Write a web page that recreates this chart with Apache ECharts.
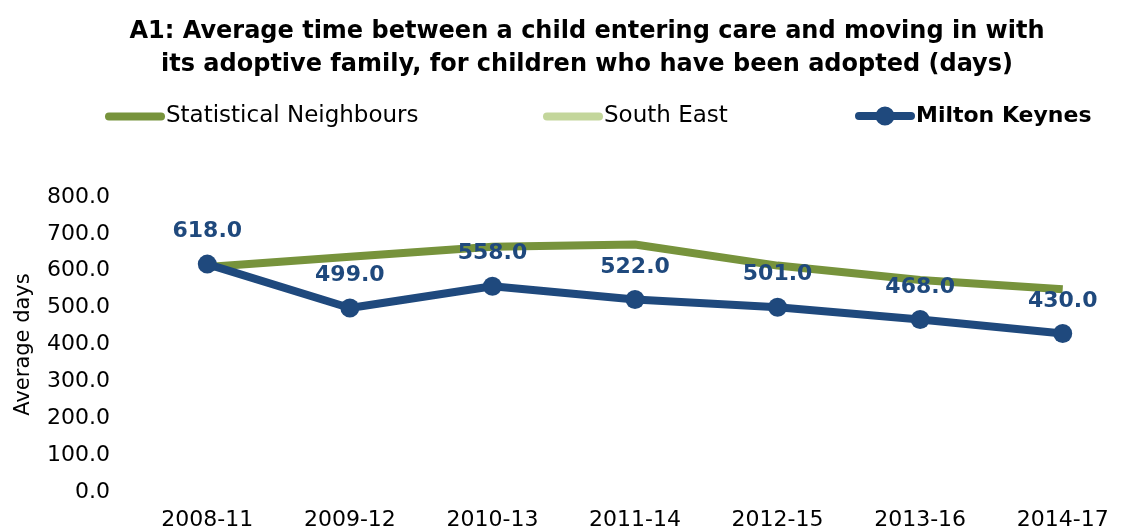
<!DOCTYPE html>
<html>
<head>
<meta charset="utf-8">
<script src="https://cdn.jsdelivr.net/npm/echarts@6/dist/echarts.min.js"></script>
<style>
  html, body { margin: 0; padding: 0; background: #fff; }
  #chart { width: 1134px; height: 531px; }
</style>
</head>
<body>
<div id="chart"></div>
<script>
// periods on the x axis
var periods = ['2008-11', '2009-12', '2010-13', '2011-14', '2012-15', '2013-16', '2014-17'];
// average days
var statNeighbours = [610, 638, 665, 671, 614, 575, 550];
var southEast = [];
var miltonKeynes = [618, 499, 558, 522, 501, 468, 430];
var yTicks = [0, 100, 200, 300, 400, 500, 600, 700, 800];

var chart = echarts.init(document.getElementById('chart'));

var font = '"DejaVu Sans", Arial, sans-serif';

// thick rounded bar, and the same bar with a dot for the marker series
var barIcon = 'path://M4,0 L56,0 A4,4 0 0 1 56,8 L4,8 A4,4 0 0 1 4,0 Z';
var dotIcon = 'path://M4,5.5 L56,5.5 A4,4 0 0 1 56,13.5 L4,13.5 A4,4 0 0 1 4,5.5 Z ' +
  'M20.5,9.5 A9.5,9.5 0 1 1 39.5,9.5 A9.5,9.5 0 1 1 20.5,9.5 Z';

var legendBase = function (name, left, icon, h, bold) {
  return {
    data: [{ name: name, icon: icon }],
    left: left,
    top: 105,
    itemWidth: 60,
    itemHeight: h,
    itemGap: 0,
    padding: 0,
    symbolKeepAspect: false,
    textStyle: {
      fontFamily: font,
      fontSize: bold ? 22 : 23,
      color: '#000',
      fontWeight: bold ? 'bold' : 'normal',
      padding: [0, 0, 0, -4],
      verticalAlign: 'middle'
    }
  };
};

var option = {
  backgroundColor: '#fff',
  animation: false,
  title: {
    text: 'A1: Average time between a child entering care and moving in with\nits adoptive family, for children who have been adopted (days)',
    left: 582,
    textAlign: 'center',
    top: 10,
    textStyle: {
      fontFamily: font,
      fontSize: 24,
      fontWeight: 'bold',
      color: '#000',
      lineHeight: 33
    }
  },
  legend: [
    legendBase('Statistical Neighbours', 105, barIcon, 8, false),
    legendBase('South East', 543, barIcon, 8, false),
    legendBase('Milton Keynes', 855, dotIcon, 19, true)
  ],
  grid: {
    left: 136,
    top: 197,
    width: 1008,
    bottom: 39,
    containLabel: false
  },
  xAxis: {
    type: 'category',
    data: periods,
    boundaryGap: true,
    axisLine: { show: false },
    axisTick: { show: false },
    axisLabel: {
      fontFamily: font,
      fontSize: 22,
      color: '#000',
      margin: 17
    }
  },
  yAxis: {
    type: 'value',
    min: yTicks[0],
    max: yTicks[yTicks.length - 1],
    interval: 100,
    name: 'Average days',
    nameLocation: 'middle',
    nameGap: 102,
    nameTextStyle: {
      fontFamily: font,
      fontSize: 21,
      color: '#000'
    },
    axisLine: { show: false },
    axisTick: { show: false },
    splitLine: { show: false },
    axisLabel: {
      fontFamily: font,
      fontSize: 22,
      color: '#000',
      margin: 26,
      formatter: function (v) { return v.toFixed(1); }
    }
  },
  series: [
    {
      name: 'Statistical Neighbours',
      type: 'line',
      data: statNeighbours,
      symbol: 'none',
      color: '#77933C',
      lineStyle: { color: '#77933C', width: 8 },
      z: 2
    },
    {
      name: 'South East',
      type: 'line',
      data: southEast,
      symbol: 'none',
      color: '#C3D69B',
      lineStyle: { color: '#C3D69B', width: 8 },
      z: 2
    },
    {
      name: 'Milton Keynes',
      type: 'line',
      data: miltonKeynes,
      symbol: 'circle',
      symbolSize: 19,
      color: '#1F497D',
      itemStyle: { color: '#1F497D' },
      lineStyle: { color: '#1F497D', width: 8 },
      z: 3,
      label: {
        show: true,
        position: 'top',
        distance: 12,
        fontFamily: font,
        fontSize: 22,
        fontWeight: 'bold',
        color: '#1F497D',
        formatter: function (p) { return p.value.toFixed(1); }
      }
    }
  ]
};

chart.setOption(option);
</script>
</body>
</html>
